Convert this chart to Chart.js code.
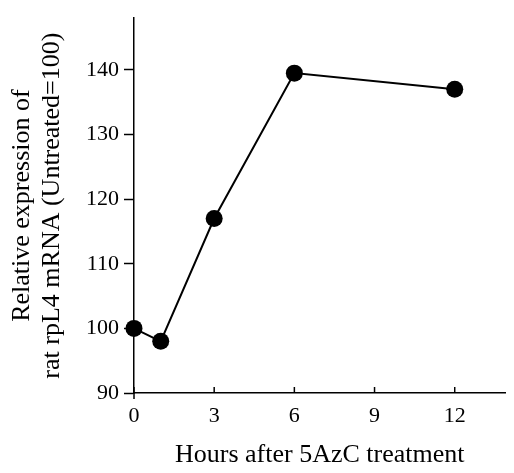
<!DOCTYPE html>
<html>
<head>
<meta charset="utf-8">
<script src="https://cdn.jsdelivr.net/npm/chart.js@4/dist/chart.umd.min.js"></script>
<style>
  html, body { margin: 0; padding: 0; background: #fff; }
  #wrap { width: 514px; height: 473px; }
</style>
</head>
<body>
<div id="wrap"><canvas id="chart" width="514" height="473"></canvas></div>
<script>
// Data
const hours = [0, 1, 3, 6, 12];
const expression = [100, 98, 117, 139.5, 137];
const xTicks = [0, 3, 6, 9, 12];
const yTicks = [90, 100, 110, 120, 130, 140];

const serif = '"Liberation Serif", "DejaVu Serif", serif';

// small tick marks on the x axis that point up into the plot
const xTickMarks = {
    id: 'xTickMarks',
    afterDraw(chart) {
        const ctx = chart.ctx;
        const xs = chart.scales.x;
        ctx.save();
        ctx.strokeStyle = '#000';
        ctx.lineWidth = 1.5;
        xs.ticks.forEach(t => {
            const px = xs.getPixelForValue(t.value);
            ctx.beginPath();
            ctx.moveTo(px, xs.top - 6);
            ctx.lineTo(px, xs.top + (t.value === 0 ? 6 : 0));
            ctx.stroke();
        });
        ctx.restore();
    }
};

new Chart(document.getElementById('chart').getContext('2d'), {
    type: 'line',
    data: {
        datasets: [{
            data: hours.map((h, i) => ({ x: h, y: expression[i] })),
            borderColor: '#000',
            borderWidth: 2,
            backgroundColor: '#000',
            pointRadius: 8.5,
            pointBackgroundColor: '#000',
            pointBorderWidth: 0,
            tension: 0,
            clip: false
        }]
    },
    options: {
        responsive: false,
        animation: false,
        layout: { padding: { top: 14, right: 2, left: 0, bottom: 0 } },
        plugins: {
            legend: { display: false },
            tooltip: { enabled: false }
        },
        scales: {
            x: {
                type: 'linear',
                min: 0,
                max: 13.9,
                afterBuildTicks: scale => { scale.ticks = xTicks.map(v => ({ value: v })); },
                afterFit: scale => { scale.height = 80; },
                grid: { display: true, drawOnChartArea: false, drawTicks: false },
                border: { color: '#000', width: 1.5 },
                ticks: {
                    color: '#000',
                    padding: 10,
                    font: { family: serif, size: 22 }
                },
                title: {
                    display: true,
                    text: 'Hours after 5AzC treatment',
                    color: '#000',
                    font: { family: serif, size: 26 },
                    padding: { top: 0, bottom: 2 }
                }
            },
            y: {
                min: 90,
                max: 148,
                afterBuildTicks: scale => { scale.ticks = yTicks.map(v => ({ value: v })); },
                afterFit: scale => { scale.width = 134; },
                grid: { display: true, drawOnChartArea: false, drawTicks: true, tickLength: 10, tickColor: '#000', tickWidth: 1.5 },
                border: { color: '#000', width: 1.5 },
                ticks: {
                    color: '#000',
                    padding: 5,
                    font: { family: serif, size: 22 }
                },
                title: {
                    display: true,
                    text: ['Relative expression of', 'rat rpL4 mRNA (Untreated=100)'],
                    color: '#000',
                    font: { family: serif, size: 26, lineHeight: 1.15 },
                    padding: { top: 7, bottom: 0 }
                }
            }
        }
    },
    plugins: [xTickMarks]
});
</script>
</body>
</html>
